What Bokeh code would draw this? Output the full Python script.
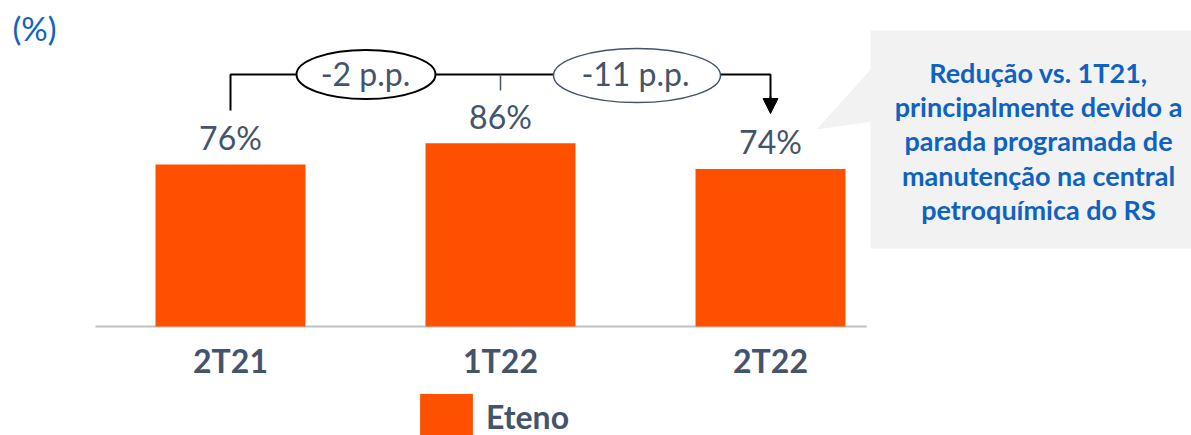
from bokeh.plotting import figure
from bokeh.models import Range1d, Legend, LegendItem, Arrow, NormalHead
from bokeh.core.properties import value
from bokeh.embed import file_html
from bokeh.resources import INLINE

# ---------------- data ----------------
categories = ["2T21", "1T22", "2T22"]
eteno = [76, 86, 74]
value_labels = ["76%", "86%", "74%"]
delta_labels = ["-2 p.p.", "-11 p.p."]
series_name = "Eteno"
unit_label = "(%)"
note_lines = [
    "Redução vs. 1T21,",
    "principalmente devido a",
    "parada programada de",
    "manutenção na central",
    "petroquímica do RS",
]

# ---------------- layout helpers ----------------
W, H = 1191, 435
X0, XS = 230.0, 270.0     # screen x of category 0, px per category
Y0, YS = 326.0, 2.13      # screen y (from top) of value 0, px per %
BL = 0.37                 # baseline correction (fraction of font size)


def fx(px):  # screen x -> data x
    return (px - X0) / XS


def fy(py):  # screen y -> data y
    return (Y0 - py) / YS


def ty(baseline, size):  # data y for a text whose baseline should sit at screen y
    return fy(baseline - BL * size)


ORANGE = "#FF5000"
SLATE = "#44546A"
BLUE = "#0F62C0"
FONT = value("Lato")

p = figure(width=W, height=H,
           x_range=Range1d(fx(0), fx(W)),
           y_range=Range1d(fy(H), fy(0)),
           x_axis_type=None, y_axis_type=None,
           min_border=0, toolbar_location=None, output_backend="svg",
           outline_line_color=None)
p.grid.visible = False
p.background_fill_color = "white"
p.border_fill_color = "white"

xs = list(range(len(categories)))

# callout box with tail
p.quad(left=fx(870), right=fx(1200), top=fy(30), bottom=fy(248),
       fill_color="#F2F2F2", line_color=None)
p.patch(x=[fx(872), fx(816), fx(872)], y=[fy(67), fy(129), fy(121)],
        fill_color="#F2F2F2", line_color=None)
for i, line in enumerate(note_lines):
    p.text(x=[fx(1038)], y=[ty(82 + 34.2 * i, 27)], text=[line],
           text_font=FONT, text_font_style="bold", text_font_size="27px",
           text_color=BLUE, text_align="center", text_baseline="alphabetic")

# baseline
p.segment(x0=[fx(95)], y0=[0], x1=[fx(866)], y1=[0],
          line_color="#BFBFBF", line_width=2)

# bars
bars = p.vbar(x=xs, top=eteno, width=150 / XS, bottom=0,
              fill_color=ORANGE, line_color=None)

# value labels
p.text(x=xs, y=eteno, text=value_labels, y_offset=-27,
       text_font=FONT, text_font_size="32px", text_color=SLATE,
       text_align="center", text_baseline="alphabetic")

# category labels
p.text(x=xs, y=[0] * len(xs), text=categories, y_offset=34,
       text_font=FONT, text_font_style="bold", text_font_size="32px",
       text_color=SLATE, text_align="center", text_baseline="alphabetic")

# connector
yc = fy(74)
p.line(x=[xs[0], xs[0], xs[2], xs[2]], y=[fy(110), yc, yc, fy(100)],
       line_color="black", line_width=2)
p.add_layout(Arrow(end=NormalHead(size=15, fill_color="black", line_color="black", line_width=1),
                   x_start=xs[2], y_start=fy(96), x_end=xs[2], y_end=fy(113),
                   line_color="black", line_width=2))
p.segment(x0=[xs[1]], y0=[yc], x1=[xs[1]], y1=[fy(90)],
          line_color=SLATE, line_width=1.5)

# delta ellipses
p.ellipse(x=[fx(365.5)], y=[fy(74)], width=139, height=49,
          width_units="screen", height_units="screen",
          fill_color="white", line_color="black", line_width=2)
p.ellipse(x=[fx(636.5)], y=[fy(75)], width=167, height=54,
          width_units="screen", height_units="screen",
          fill_color="white", line_color=SLATE, line_width=1.5)
p.text(x=[fx(365), fx(635)], y=[ty(85, 32), ty(85, 32)], text=delta_labels,
       text_font=FONT, text_font_size="32px", text_color=SLATE,
       text_align="center", text_baseline="alphabetic")

# unit label
p.text(x=[fx(12)], y=[ty(40, 33)], text=[unit_label],
       text_font=FONT, text_font_size="33px", text_color=BLUE,
       text_align="left", text_baseline="alphabetic")

# legend (area glyphs are drawn with a 10% inset inside the glyph box)
legend = Legend(items=[LegendItem(label=series_name, renderers=[bars])],
                location=(413, -9), orientation="horizontal",
                glyph_width=66, glyph_height=56, label_standoff=7,
                padding=0, margin=0, spacing=0,
                border_line_color=None, background_fill_alpha=0,
                label_text_font="Lato", label_text_font_style="bold",
                label_text_font_size="32px", label_text_color=SLATE)
p.add_layout(legend)

open("out.html", "w").write(file_html(p, INLINE))
